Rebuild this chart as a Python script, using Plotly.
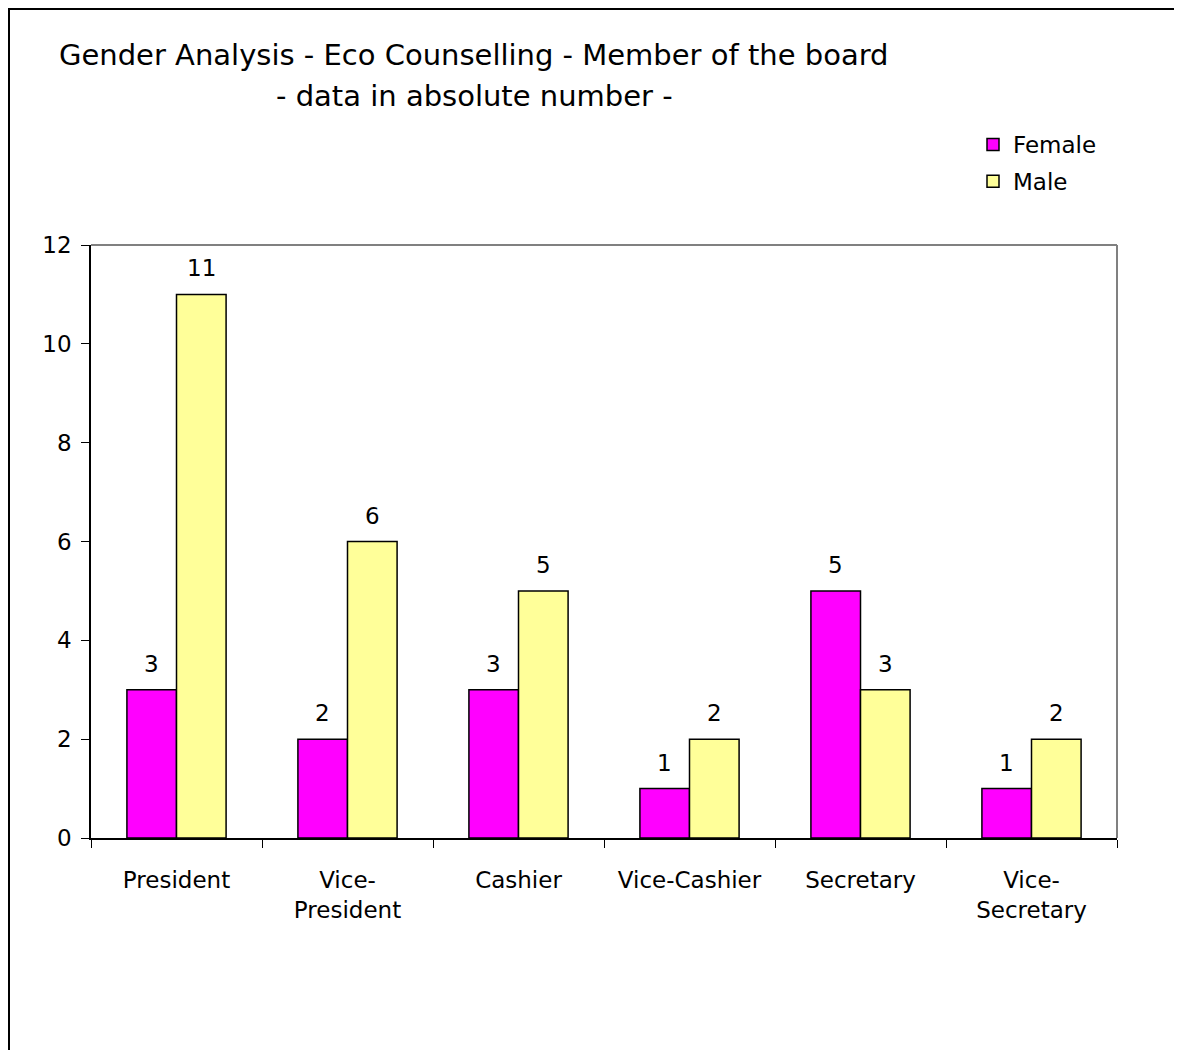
import plotly.graph_objects as go

categories = ["President", "Vice-<br>President", "Cashier", "Vice-Cashier", "Secretary", "Vice-<br>Secretary"]
female = [3, 2, 3, 1, 5, 1]
male = [11, 6, 5, 2, 3, 2]
y_ticks = [0, 2, 4, 6, 8, 10, 12]
title_line1 = "Gender Analysis - Eco Counselling - Member of the board"
title_line2 = "- data in absolute number -"

FONT = "DejaVu Sans"
BARGAP = 0.42

# page body margin in the browser shifts the figure by 8px
OFF = 8
W, H = 1182, 1050
# plot area in screen pixels
PX0, PX1, PY0, PY1 = 91, 1117, 245, 838
L = PX0 - OFF
T = PY0 - OFF
pw, ph = PX1 - PX0, PY1 - PY0
R = W - L - pw
B = H - T - ph

def px_x(x):
    return (x - PX0) / pw

def px_y(y):
    return (PY1 - y) / ph

fig = go.Figure()
fig.add_trace(go.Bar(
    x=categories, y=female, name="Female", legendgroup="f",
    marker=dict(color="#FF00FF", line=dict(color="black", width=1.5)),
))
fig.add_trace(go.Bar(
    x=categories, y=male, name="Male", legendgroup="m",
    marker=dict(color="#FFFF99", line=dict(color="black", width=1.5)),
))

# value labels above bars
off = (1 - BARGAP) / 4
for series, sgn in ((female, -1), (male, 1)):
    for i, v in enumerate(series):
        fig.add_annotation(x=i + sgn * off, y=v, xref="x", yref="y",
                           text=str(v), showarrow=False, yanchor="bottom",
                           yshift=11, font=dict(size=23, family=FONT, color="black"))

fig.update_layout(
    width=W, height=H,
    margin=dict(l=L, r=R, t=T, b=B, autoexpand=False),
    paper_bgcolor="white", plot_bgcolor="white",
    barmode="group", bargap=BARGAP, bargroupgap=0,
    font=dict(family=FONT, size=23, color="black"),
    showlegend=True,
    legend=dict(x=px_x(973), y=px_y(123), xanchor="left", yanchor="top",
                font=dict(size=23, family=FONT), bgcolor="rgba(0,0,0,0)",
                itemwidth=30, traceorder="grouped", tracegroupgap=4),
    xaxis=dict(showline=True, linecolor="black", linewidth=1.5,
               ticks="outside", tickson="boundaries", ticklen=8, tickcolor="black",
               ticklabelstandoff=21,
               tickfont=dict(size=23, family=FONT), showgrid=False, zeroline=False),
    yaxis=dict(range=[0, 12], tickvals=y_ticks, showline=True, linecolor="black", linewidth=1.5,
               ticks="outside", ticklen=8, tickcolor="black", ticklabelstandoff=5,
               tickfont=dict(size=23, family=FONT), showgrid=False, zeroline=False),
)

# gray top/right plot borders
fig.add_shape(type="line", xref="paper", yref="paper", x0=0, x1=1, y0=1, y1=1,
              line=dict(color="#808080", width=2))
fig.add_shape(type="line", xref="paper", yref="paper", x0=1, x1=1, y0=0, y1=1,
              line=dict(color="#808080", width=2))
# outer chart border (left and top visible)
fig.add_shape(type="rect", xref="paper", yref="paper",
              x0=px_x(9), x1=px_x(W + 40), y0=px_y(H + 40), y1=px_y(9),
              line=dict(color="black", width=2), layer="below")

fig.add_annotation(xref="paper", yref="paper", x=px_x(474), y=px_y(55),
                   xanchor="center", yanchor="middle", showarrow=False,
                   text=title_line1, font=dict(size=29, family=FONT, color="black"))
fig.add_annotation(xref="paper", yref="paper", x=px_x(474), y=px_y(96),
                   xanchor="center", yanchor="middle", showarrow=False,
                   text=title_line2, font=dict(size=29, family=FONT, color="black"))

fig.write_html("out.html")
